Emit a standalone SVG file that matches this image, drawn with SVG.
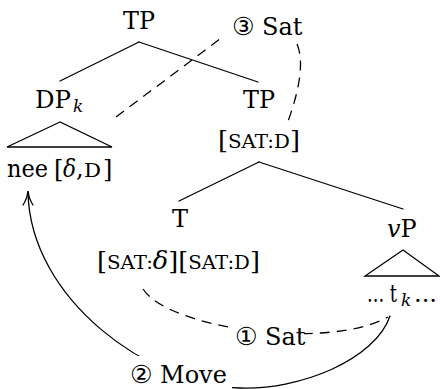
<svg xmlns="http://www.w3.org/2000/svg" width="440" height="389" viewBox="0 0 440 389">
<style>
text{font-family:"DejaVu Serif",serif;font-size:24px;fill:#000}
.sc{font-size:18.5px}
.it{font-style:italic}
.sub{font-size:17px;font-style:italic}
.cn{font-family:"DejaVu Sans",sans-serif;font-size:25px}
.ln{stroke:#000;stroke-width:1.3;fill:none;stroke-linecap:round}
.ds{stroke:#000;stroke-width:1.3;fill:none;stroke-dasharray:10 7}
.lbl{fill:#fff;stroke:none}
</style>
<rect width="440" height="389" fill="#fff"/>
<g id="connectors">
<line class="ln" x1="139" y1="42" x2="60" y2="81"/>
<line class="ln" x1="139" y1="42" x2="258" y2="82"/>
<line class="ln" x1="259" y1="162" x2="179" y2="201"/>
<line class="ln" x1="259" y1="162" x2="403" y2="209"/>
<path class="ds" d="M116,117 L224,36"/>
<path class="ds" d="M297,44 C306,65 296,100 287,124"/>
<path class="ds" d="M143,289 C170,330 330,350 388,317"/>
<path class="ln" d="M390,316 C375,360 300,390 240,388 C150,385 30,300 28,192"/>
<path class="ln" d="M23,205 Q27,199 28,191 Q29,199 33,205"/>
</g>
<g id="TP1"><text x="139" y="29" text-anchor="middle" textLength="32" lengthAdjust="spacingAndGlyphs">TP</text></g>
<g id="DP"><text x="35" y="108" textLength="36" lengthAdjust="spacingAndGlyphs">DP</text><text class="sub" x="73" y="112">k</text></g>
<g id="DPtri">
<path class="ln" d="M60,122 L7,147 L112,147 Z"/>
<text x="7" y="177" textLength="41" lengthAdjust="spacingAndGlyphs">nee</text>
<text x="54" y="177">[</text>
<text class="it" x="63" y="177" textLength="13" lengthAdjust="spacingAndGlyphs">δ</text>
<text x="76" y="177">,</text>
<text class="sc" x="84" y="177" textLength="17" lengthAdjust="spacingAndGlyphs">D</text>
<text x="103" y="177">]</text>
</g>
<g id="TP2">
<text x="243" y="108" textLength="32" lengthAdjust="spacingAndGlyphs">TP</text>
<text x="218" y="148" textLength="82" lengthAdjust="spacingAndGlyphs">[<tspan class="sc">SAT:D</tspan>]</text>
</g>
<g id="T">
<text x="180" y="227" text-anchor="middle">T</text>
<text x="97" y="269" textLength="163" lengthAdjust="spacingAndGlyphs">[<tspan class="sc">SAT:</tspan><tspan class="it">δ</tspan>][<tspan class="sc">SAT:D</tspan>]</text>
</g>
<g id="vP">
<text x="387" y="237"><tspan class="it">v</tspan>P</text>
<path class="ln" d="M403,250 L365,276 L439,276 Z"/>
<text x="367" y="302" textLength="30" lengthAdjust="spacingAndGlyphs">... t</text>
<text class="sub" x="401" y="306">k</text>
<text x="414" y="302" textLength="23" lengthAdjust="spacingAndGlyphs">...</text>
</g>
<g id="label3"><text x="232" y="35"><tspan class="cn">③</tspan> Sat</text></g>
<g id="label1">
<rect class="lbl" x="229" y="322" width="75" height="28"/>
<text x="235" y="345"><tspan class="cn">①</tspan> Sat</text>
</g>
<g id="label2">
<rect class="lbl" x="136" y="356" width="96" height="36"/>
<text x="130" y="383"><tspan class="cn">②</tspan> Move</text>
</g>
</svg>
